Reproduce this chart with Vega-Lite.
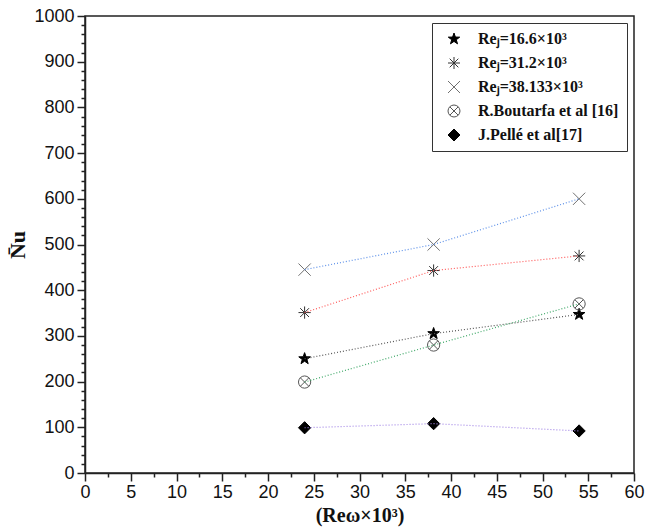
{
  "$schema": "https://vega.github.io/schema/vega-lite/v6.json",
  "width": 549,
  "height": 457,
  "autosize": "none",
  "padding": {"left": 85, "top": 16, "right": 22, "bottom": 57},
  "background": "white",
  "config": {
    "view": {"stroke": "#222", "strokeWidth": 1.5},
    "axis": {
      "labelFont": "Liberation Sans",
      "labelFontSize": 18,
      "labelColor": "#111",
      "domainColor": "#222",
      "domainWidth": 1.5,
      "tickColor": "#222",
      "tickWidth": 1.5,
      "grid": false,
      "titleFont": "Liberation Serif",
      "titleFontWeight": "bold",
      "titleColor": "#111"
    }
  },
  "data": {
    "values": [
      {"series": "s1", "x": 24, "y": 250},
      {"series": "s1", "x": 38.1, "y": 305},
      {"series": "s1", "x": 54, "y": 347},
      {"series": "s2", "x": 24, "y": 351},
      {"series": "s2", "x": 38.1, "y": 443},
      {"series": "s2", "x": 54, "y": 475},
      {"series": "s3", "x": 24, "y": 445},
      {"series": "s3", "x": 38.1, "y": 500},
      {"series": "s3", "x": 54, "y": 600},
      {"series": "s4", "x": 24, "y": 199},
      {"series": "s4", "x": 38.1, "y": 280},
      {"series": "s4", "x": 54, "y": 370},
      {"series": "s5", "x": 24, "y": 99},
      {"series": "s5", "x": 38.1, "y": 108},
      {"series": "s5", "x": 54, "y": 92}
    ]
  },
  "resolve": {"axis": {"x": "independent", "y": "independent"}},
  "layer": [
    {
      "mark": {"type": "point", "opacity": 0},
      "encoding": {
        "x": {
          "field": "x",
          "type": "quantitative",
          "scale": {"domain": [0, 60], "nice": false},
          "axis": {
            "orient": "bottom",
            "title": null,
            "labels": false,
            "domain": false,
            "tickSize": 4,
            "values": [2.5,7.5,12.5,17.5,22.5,27.5,32.5,37.5,42.5,47.5,52.5,57.5]
          }
        },
        "y": {
          "field": "y",
          "type": "quantitative",
          "scale": {"domain": [0, 1000], "nice": false},
          "axis": {
            "orient": "left",
            "title": null,
            "labels": false,
            "domain": false,
            "tickSize": 4,
            "values": [20,40,60,80,120,140,160,180,220,240,260,280,320,340,360,380,420,440,460,480,520,540,560,580,620,640,660,680,720,740,760,780,820,840,860,880,920,940,960,980]
          }
        }
      }
    },
    {
      "mark": {"type": "point", "filled": true, "strokeWidth": 1, "opacity": 1},
      "encoding": {
        "x": {
          "field": "x",
          "type": "quantitative",
          "scale": {"domain": [0, 60], "nice": false},
          "axis": {
            "orient": "bottom",
            "title": "(Reω×10³)",
            "titleFontSize": 20,
            "titlePadding": 4,
            "values": [0,5,10,15,20,25,30,35,40,45,50,55,60],
            "tickSize": 8,
            "labelPadding": 2,
            "labelFlush": false
          }
        },
        "y": {
          "field": "y",
          "type": "quantitative",
          "scale": {"domain": [0, 1000], "nice": false},
          "axis": {
            "orient": "left",
            "title": "N̄u",
            "titleFontSize": 22,
            "titlePadding": 4,
            "format": "d",
            "values": [0,100,200,300,400,500,600,700,800,900,1000],
            "tickSize": 8,
            "labelPadding": 3
          }
        },
        "shape": {
          "field": "series",
          "type": "nominal",
          "scale": {
            "domain": ["s1","s2","s3","s4","s5"],
            "range": [
              "M0,-1L0.235,-0.324L0.951,-0.309L0.380,0.124L0.588,0.809L0,0.4L-0.588,0.809L-0.380,0.124L-0.951,-0.309L-0.235,-0.324Z",
              "M-1,0L1,0M0,-1L0,1M-0.72,-0.72L0.72,0.72M-0.72,0.72L0.72,-0.72",
              "M-1,-1L1,1M-1,1L1,-1",
              "M1,0L0.92,0.38L0.71,0.71L0.38,0.92L0,1L-0.38,0.92L-0.71,0.71L-0.92,0.38L-1,0L-0.92,-0.38L-0.71,-0.71L-0.38,-0.92L0,-1L0.38,-0.92L0.71,-0.71L0.92,-0.38ZM-0.68,-0.68L0.68,0.68M-0.68,0.68L0.68,-0.68",
              "diamond"
            ]
          },
          "legend": {
            "title": null,
            "orient": "top-right",
            "offset": 7,
            "strokeColor": "#333",
            "fillColor": "white",
            "padding": 8,
            "rowPadding": 8,
            "symbolOffset": 6,
            "labelOffset": 16,
            "labelFont": "Liberation Serif",
            "labelFontWeight": "bold",
            "labelFontSize": 16,
            "labelColor": "#111",
            "labelLimit": 300,
            "symbolSize": 144,
            "symbolStrokeWidth": 1,
            "labelExpr": "datum.value == 's1' ? 'Reⱼ=16.6×10³' : datum.value == 's2' ? 'Reⱼ=31.2×10³' : datum.value == 's3' ? 'Reⱼ=38.133×10³' : datum.value == 's4' ? 'R.Boutarfa et al [16]' : 'J.Pellé et al[17]'"
          }
        },
        "fill": {
          "field": "series",
          "type": "nominal",
          "scale": {"domain": ["s1","s2","s3","s4","s5"], "range": ["#000000", "transparent", "transparent", "transparent", "#000000"]}
        },
        "stroke": {
          "field": "series",
          "type": "nominal",
          "scale": {"domain": ["s1","s2","s3","s4","s5"], "range": ["#000000", "#333333", "#707070", "#555555", "#000000"]}
        },
        "size": {"value": 150}
      }
    },
    {
      "transform": [{"filter": "datum.series == 's1'"}],
      "mark": {"type": "line", "strokeDash": [1, 2], "strokeWidth": 1.2, "color": "#555555"},
      "encoding": {
        "x": {"field": "x", "type": "quantitative", "scale": {"domain": [0, 60], "nice": false}, "axis": null},
        "y": {"field": "y", "type": "quantitative", "scale": {"domain": [0, 1000], "nice": false}, "axis": null}
      }
    },
    {
      "transform": [{"filter": "datum.series == 's2'"}],
      "mark": {"type": "line", "strokeDash": [1, 2], "strokeWidth": 1.2, "color": "#ff5a5a"},
      "encoding": {
        "x": {"field": "x", "type": "quantitative", "scale": {"domain": [0, 60], "nice": false}, "axis": null},
        "y": {"field": "y", "type": "quantitative", "scale": {"domain": [0, 1000], "nice": false}, "axis": null}
      }
    },
    {
      "transform": [{"filter": "datum.series == 's3'"}],
      "mark": {"type": "line", "strokeDash": [1, 2], "strokeWidth": 1.2, "color": "#5b8fe8"},
      "encoding": {
        "x": {"field": "x", "type": "quantitative", "scale": {"domain": [0, 60], "nice": false}, "axis": null},
        "y": {"field": "y", "type": "quantitative", "scale": {"domain": [0, 1000], "nice": false}, "axis": null}
      }
    },
    {
      "transform": [{"filter": "datum.series == 's4'"}],
      "mark": {"type": "line", "strokeDash": [1, 2], "strokeWidth": 1.2, "color": "#3fa868"},
      "encoding": {
        "x": {"field": "x", "type": "quantitative", "scale": {"domain": [0, 60], "nice": false}, "axis": null},
        "y": {"field": "y", "type": "quantitative", "scale": {"domain": [0, 1000], "nice": false}, "axis": null}
      }
    },
    {
      "transform": [{"filter": "datum.series == 's5'"}],
      "mark": {"type": "line", "strokeDash": [1, 2], "strokeWidth": 1.2, "color": "#a488e6"},
      "encoding": {
        "x": {"field": "x", "type": "quantitative", "scale": {"domain": [0, 60], "nice": false}, "axis": null},
        "y": {"field": "y", "type": "quantitative", "scale": {"domain": [0, 1000], "nice": false}, "axis": null}
      }
    }
  ]
}
